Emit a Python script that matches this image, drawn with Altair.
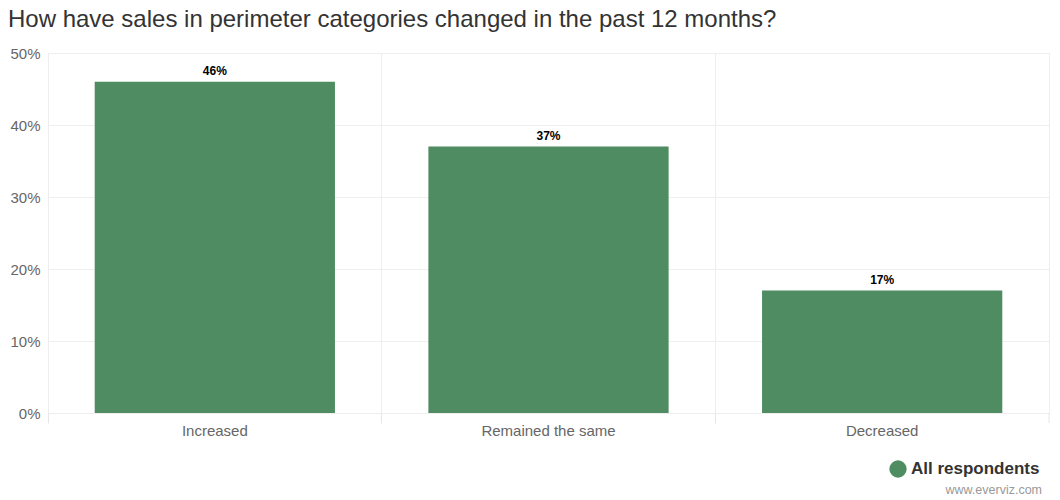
import altair as alt
import pandas as pd

categories = ["Increased", "Remained the same", "Decreased"]
values = [46, 37, 17]
series_name = ["All respondents"] * 3

df = pd.DataFrame({"category": categories, "value": values, "series": series_name})

W, H = 1001, 360
GREEN = "#4f8c62"

base = alt.Chart(df)

bars = base.mark_bar(color=GREEN, width=alt.RelativeBandSize(0.72)).encode(
    x=alt.X("category:N", sort=categories, title=None,
            scale=alt.Scale(paddingInner=0, paddingOuter=0),
            axis=alt.Axis(labelAngle=0, labelFontSize=15, labelColor="#666666",
                          labelFont="Liberation Sans", bandPosition=0,
                          grid=True, gridColor="#eeeeee", ticks=True, tickSize=10,
                          tickColor="#e6e6e6", domain=False, labelPadding=0)),
    y=alt.Y("value:Q", title=None,
            scale=alt.Scale(domain=[0, 50]),
            axis=alt.Axis(values=[0, 10, 20, 30, 40, 50], labelExpr="datum.value + '%'",
                          labelFontSize=15, labelColor="#666666", labelFont="Liberation Sans",
                          ticks=False, domain=False, gridColor="#eeeeee", labelPadding=8)),
    color=alt.Color("series:N", scale=alt.Scale(range=[GREEN]),
                    legend=alt.Legend(title=None, orient="none", legendX=841, legendY=407,
                                      symbolType="circle", symbolSize=300, symbolStrokeWidth=0,
                                      labelFontSize=17, labelFontWeight="bold",
                                      labelColor="#333333", labelFont="Liberation Sans")),
)

labels = base.mark_text(dy=-11, fontSize=12, fontWeight="bold", color="#000000",
                        font="Liberation Sans").transform_calculate(
    lbl="datum.value + '%'"
).encode(
    x=alt.X("category:N", sort=categories),
    y="value:Q",
    text="lbl:N",
)

end_tick = alt.Chart(pd.DataFrame({"a": [0]})).mark_rule(color="#e6e6e6").encode(
    x=alt.value(W), y=alt.value(H), y2=alt.value(H + 10))

credits = alt.Chart(pd.DataFrame({"t": ["www.everviz.com"]})).mark_text(
    align="right", baseline="middle", fontSize=12.5, color="#999999",
    font="Liberation Sans").encode(x=alt.value(994), y=alt.value(437), text="t:N")

chart = alt.layer(bars, labels, end_tick, credits).properties(
    width=W, height=H,
    autosize=alt.AutoSizeParams(type="none"),
    padding={"left": 48, "top": 53, "right": 11, "bottom": 87},
    title=alt.TitleParams("How have sales in perimeter categories changed in the past 12 months?",
                          anchor="start", fontSize=24, fontWeight="normal", color="#333333",
                          font="Liberation Sans", offset=14, dx=-2),
).configure_view(stroke="#eeeeee").configure_axis(gridColor="#eeeeee")

chart.save("out.html", embed_options={"renderer": "svg", "actions": False})
